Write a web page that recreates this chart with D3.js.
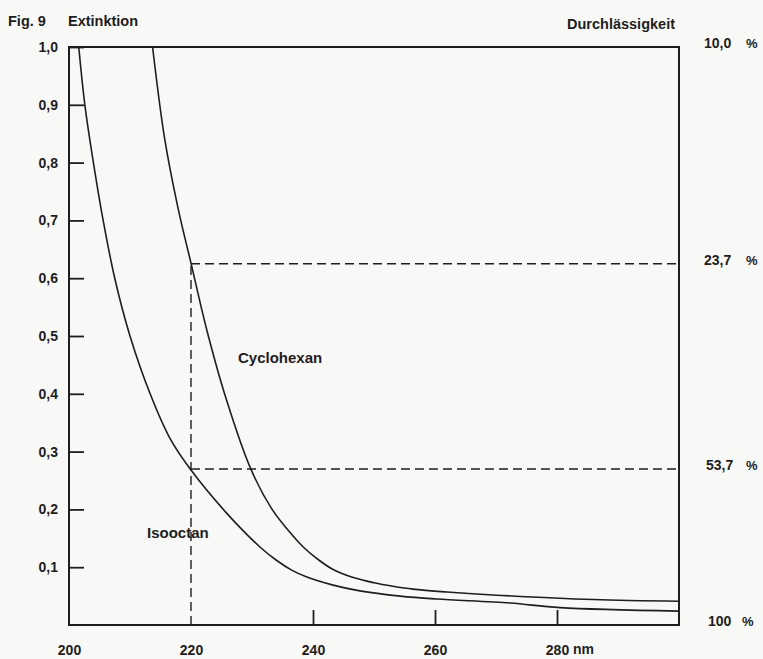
<!DOCTYPE html>
<html><head><meta charset="utf-8">
<script src="https://cdn.jsdelivr.net/npm/d3@7"></script>
<style>
html,body{margin:0;padding:0;background:#f8f8f6;}
text{font-family:"Liberation Sans",Arial,sans-serif;fill:#1e1e1e;}
</style></head>
<body><svg id="c" width="763" height="659"></svg>
<script>
// Data (wavelength nm, Extinktion)
const cyclohexanNm = [213.7,215.7,217.9,220,222.6,225.8,229.8,233.3,236,238.4,241,243.3,246.6,250,253.1,256.4,262,269.5,285.9,300];
const cyclohexanE  = [1.0,0.84,0.72,0.626,0.51,0.39,0.27,0.2,0.163,0.135,0.112,0.096,0.082,0.073,0.067,0.062,0.057,0.052,0.044,0.041];
const isooctanNm = [201.6,202.6,204,205.6,207.5,210,213.3,216.6,220,225.8,231.3,234,236.5,239,243.3,247.7,254.3,260.3,272.3,280.5,300];
const isooctanE  = [1.0,0.9,0.8,0.7,0.6,0.5,0.4,0.322,0.268,0.194,0.135,0.112,0.095,0.083,0.069,0.059,0.05,0.045,0.038,0.03,0.024];
const yTicks = [0.1,0.2,0.3,0.4,0.5,0.6,0.7,0.8,0.9,1.0];
const xTickLabels = [200,220,240,260,280];
const xTickMarks = [240,260,280];
const transLabels = ["10,0","23,7","53,7","100"];
const transE = [1.0,0.625,0.27,0];
const refNm = 220;
const refE = [0.625,0.27];

const svg = d3.select("#c");
const L=69,R=679,T=47,B=625;
const x = d3.scaleLinear().domain([200,300]).range([L,R]);
const y = d3.scaleLinear().domain([0,1]).range([B,T]);
const ink = "#1e1e1e";
const FONT = "Liberation Sans, Arial, sans-serif";

// frame
svg.append("rect").attr("x",L).attr("y",T).attr("width",R-L).attr("height",B-T)
  .attr("fill","none").attr("stroke",ink).attr("stroke-width",2);

// left axis (ticks inward)
const ya = svg.append("g").attr("transform",`translate(${L},0)`)
  .call(d3.axisLeft(y).tickValues(yTicks).tickSizeInner(-15).tickSizeOuter(0).tickPadding(11)
    .tickFormat(d=>d3.format(".1f")(d).replace(".",",")));
ya.select(".domain").remove();
ya.selectAll("line").attr("stroke",ink).attr("stroke-width",1.8);
ya.selectAll("text").attr("font-size",14).attr("font-weight","bold").attr("fill",ink).attr("font-family",FONT);

// bottom axis
const xa = svg.append("g").attr("transform",`translate(0,${B})`)
  .call(d3.axisBottom(x).tickValues(xTickLabels).tickSizeInner(-15).tickSizeOuter(0).tickPadding(20).tickFormat(d3.format("d")));
xa.select(".domain").remove();
xa.selectAll(".tick").each(function(d){ if(!xTickMarks.includes(d)) d3.select(this).select("line").remove(); });
xa.selectAll("line").attr("stroke",ink).attr("stroke-width",1.8);
xa.selectAll("text").attr("font-size",14).attr("font-weight","bold").attr("fill",ink).attr("font-family",FONT);
svg.append("text").attr("x",x(280)+16).attr("y",654).attr("font-size",14).attr("font-weight","bold").text("nm");

// dashed reference lines
const dash = "9,5";
svg.append("line").attr("x1",x(refNm)).attr("x2",x(refNm)).attr("y1",B).attr("y2",y(refE[0]))
  .attr("stroke",ink).attr("stroke-width",1.4).attr("stroke-dasharray",dash);
refE.forEach(e=>{
  svg.append("line").attr("x1",x(refNm)).attr("x2",R).attr("y1",y(e)).attr("y2",y(e))
    .attr("stroke",ink).attr("stroke-width",1.4).attr("stroke-dasharray",dash);
});

// curves
const line = d3.line().x(d=>x(d[0])).y(d=>y(d[1])).curve(d3.curveCatmullRom.alpha(0.5));
[[cyclohexanNm,cyclohexanE],[isooctanNm,isooctanE]].forEach(([a,b])=>{
  svg.append("path").attr("d",line(a.map((v,i)=>[v,b[i]])))
    .attr("fill","none").attr("stroke",ink).attr("stroke-width",1.6);
});

// labels
svg.append("text").attr("x",238).attr("y",363).attr("font-size",15).attr("font-weight","bold").text("Cyclohexan");
svg.append("text").attr("x",147).attr("y",538).attr("font-size",15).attr("font-weight","bold").text("Isooctan");
svg.append("text").attr("x",8).attr("y",26).attr("font-size",14.5).attr("font-weight","bold").text("Fig. 9");
svg.append("text").attr("x",68).attr("y",26).attr("font-size",14.5).attr("font-weight","bold").text("Extinktion");
svg.append("text").attr("x",567).attr("y",29).attr("font-size",14.5).attr("font-weight","bold").text("Durchlässigkeit");

// right-hand transmission labels
transLabels.forEach((t,i)=>{
  const yy = y(transE[i]) + 1;
  svg.append("text").attr("x", i===3?708:(i===2?706:704)).attr("y",yy)
    .attr("font-size",14).attr("font-weight","bold").text(t);
  svg.append("text").attr("x", i===3?742:746).attr("y",yy)
    .attr("font-size",13).attr("font-weight","bold").text("%");
});
</script></body></html>
